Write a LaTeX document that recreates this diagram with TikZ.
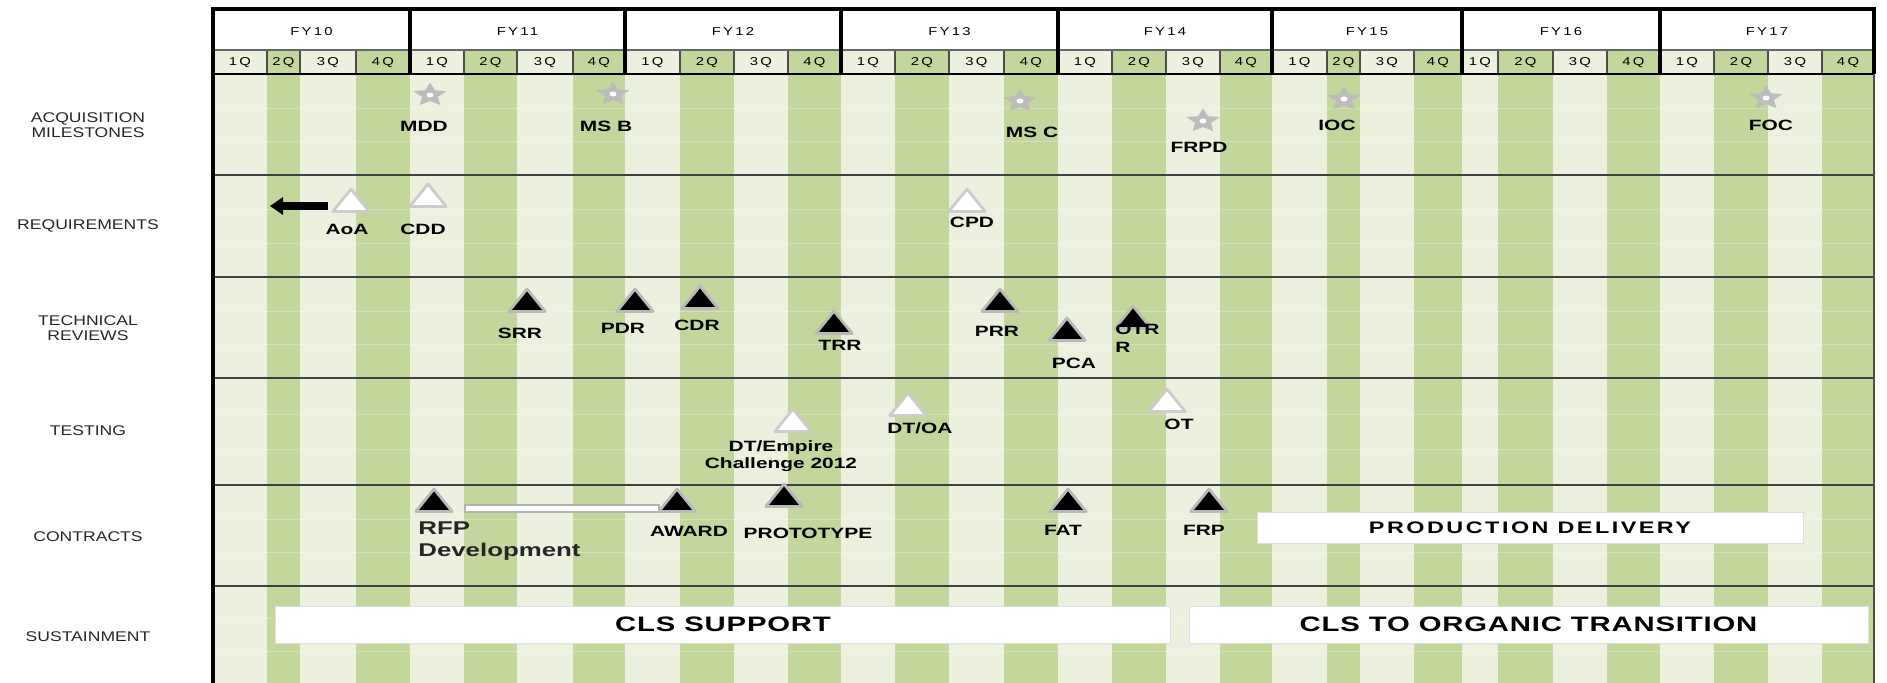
\documentclass[tikz,border=0pt]{standalone}
\usepackage{fontspec}
\setmainfont{Liberation Sans}
\newfontfamily\rowfont[FakeStretch=1.25]{Liberation Sans}
\newfontfamily\hdrfont[FakeStretch=1.3,LetterSpace=20]{Liberation Sans}
\newfontfamily\markfont[FakeStretch=1.4]{Liberation Sans}
\newfontfamily\boxfont[FakeStretch=1.4,LetterSpace=4]{Liberation Sans}
\newfontfamily\prodfont[FakeStretch=1.4,LetterSpace=15]{Liberation Sans}
\usetikzlibrary{arrows.meta, shapes.geometric, math}
\definecolor{stripelight}{RGB}{235,241,222}
\definecolor{stripedark}{RGB}{195,214,155}
\definecolor{stargray}{RGB}{188,188,188}

\tikzset{
  rowlabel/.style={font=\rowfont\fontsize{8}{8.5}\selectfont, align=center, text=black!85},
  hdrlabel/.style={font=\hdrfont\fontsize{6.5}{7}\selectfont, inner sep=0pt},
  marklabel/.style={font=\markfont\bfseries\fontsize{8.5}{10}\selectfont, align=center, inner sep=0pt},
  rfplabel/.style={font=\markfont\bfseries\fontsize{10.5}{12.5}\selectfont, align=left, inner sep=0pt, anchor=north west, text=black!85},
  blacktri/.style={regular polygon, regular polygon sides=3, minimum size=0.6cm, inner sep=0pt, xscale=1.4, fill=black, draw=gray!55, line width=1.6pt, line join=round},
  whitetri/.style={blacktri, fill=white, draw=gray!40},
  milestar/.style={star, star points=5, star point ratio=2.1, minimum size=0.5cm, inner sep=0pt, xscale=1.4, fill=stargray},
  phasebox/.style={fill=white, draw=gray!25, line width=0.5pt, inner sep=0pt},
  phasetext/.style={font=\boxfont\bfseries\fontsize{11.9}{13}\selectfont},
  prodtext/.style={font=\prodfont\bfseries\fontsize{9.5}{11}\selectfont},
  rowsep/.style={draw=black!75, line width=1pt},
  sheetline/.style={draw=white, line width=0.4pt, opacity=0.25},
  backarrow/.style={-{Triangle[width=0.34cm,length=0.26cm]}, line width=4pt},
}

\begin{document}
\begin{tikzpicture}[x=0.02cm, y=-0.02cm]
\tikzmath{
\xl=213; \xr=1874;
\ytop=9; \yq=50; \yh=74; \ybot=683;
}
\useasboundingbox (0,0) rectangle (1887,683);

% background stripes
\fill[white] (\xl,\ytop) rectangle (\xr,\yq);
\fill[stripelight] (\xl,\yq) rectangle (\xr,\ybot);
\foreach \xa/\xb in {267/300, 356/410, 464/517, 573/625, 680/734, 788/841,
  895/949, 1004/1058, 1112/1166, 1220/1272, 1327/1360, 1414/1462,
  1498/1553, 1607/1660, 1714/1768, 1822/1874}
  \fill[stripedark] (\xa,\yq) rectangle (\xb,\ybot);

\foreach \y in {108,141,209,243,311,344,414,449,519,552,618,651}
  \draw[sheetline] (\xl,\y) -- (\xr,\y);
\foreach \y in {175,277,378,485,586}
  \draw[rowsep] (\xl,\y) -- (\xr,\y);

% quarters
\foreach \xa/\xb/\q [count=\i] in {
  213/267/1Q, 267/300/2Q, 300/356/3Q, 356/410/4Q,
  410/464/1Q, 464/517/2Q, 517/573/3Q, 573/625/4Q,
  625/680/1Q, 680/734/2Q, 734/788/3Q, 788/841/4Q,
  841/895/1Q, 895/949/2Q, 949/1004/3Q, 1004/1058/4Q,
  1058/1112/1Q, 1112/1166/2Q, 1166/1220/3Q, 1220/1272/4Q,
  1272/1327/1Q, 1327/1360/2Q, 1360/1414/3Q, 1414/1462/4Q,
  1462/1498/1Q, 1498/1553/2Q, 1553/1607/3Q, 1607/1660/4Q,
  1660/1714/1Q, 1714/1768/2Q, 1768/1822/3Q, 1822/1874/4Q}
{
  \draw[black!70, line width=0.8pt] (\xa,\yq) -- (\xa,\yh);
  \node[hdrlabel] (q\i) at ({(\xa+\xb)/2},63) {\q};
}

% fiscal years
\foreach \xa/\xb/\fy in {213/410/FY10, 410/625/FY11, 625/841/FY12, 841/1058/FY13,
  1058/1272/FY14, 1272/1462/FY15, 1462/1660/FY16, 1660/1874/FY17}
  \node[hdrlabel] (\fy) at ({(\xa+\xb)/2},32) {\fy};

\draw[black!60, line width=0.6pt] (\xl,\yq) -- (\xr,\yq);
\draw[line width=1.3pt] (\xl,\yh) -- (\xr,\yh);
\foreach \x in {410,625,841,1058,1272,1462,1660}
  \draw[line width=1.8pt] (\x,\ytop) -- (\x,\yh);
\draw[line width=1.8pt] (\xl,\ybot) -- (\xl,\ytop) -- (\xr,\ytop) -- (\xr,\yh);
\draw[black!70, line width=0.8pt] (\xr,\yh) -- (\xr,\ybot);

% row titles
\node[rowlabel] (acqrow) at (88,125) {ACQUISITION\\MILESTONES};
\node[rowlabel] (reqrow) at (88,226) {REQUIREMENTS};
\node[rowlabel] (techrow) at (88,328) {TECHNICAL\\REVIEWS};
\node[rowlabel] (testrow) at (88,431) {TESTING};
\node[rowlabel] (controw) at (88,537) {CONTRACTS};
\node[rowlabel] (sustrow) at (88,637) {SUSTAINMENT};

% acquisition milestones
\node[milestar] (mdd) at (430,95) {};
\node[milestar] (msb) at (613,94) {};
\node[milestar] (msc) at (1020,101) {};
\node[milestar] (frpd) at (1203,121) {};
\node[milestar] (ioc) at (1344,99) {};
\node[milestar] (foc) at (1766,98) {};
\foreach \s in {mdd,msb,msc,frpd,ioc,foc}
  \fill[white] (\s) circle[x radius=3.5, y radius=2.5];
\node[marklabel] (mddtext) at (424,126) {MDD};
\node[marklabel] (msbtext) at (606,126) {MS B};
\node[marklabel] (msctext) at (1032,132) {MS C};
\node[marklabel] (frpdtext) at (1199,147) {FRPD};
\node[marklabel] (ioctext) at (1337,125) {IOC};
\node[marklabel] (foctext) at (1771,125) {FOC};

% requirements
\node[whitetri] (aoa) at (351,204) {};
\node[whitetri] (cdd) at (428,199) {};
\node[whitetri] (cpd) at (967,204) {};
\coordinate (aoatip) at (270,206);
\draw[backarrow, shorten <=1pt] (aoa.corner 2 |- aoatip) -- (aoatip);
\node[marklabel] (aoatext) at (347,229) {AoA};
\node[marklabel] (cddtext) at (423,229) {CDD};
\node[marklabel] (cpdtext) at (972,222) {CPD};

% technical reviews
\node[blacktri] (srr) at (527,304) {};
\node[blacktri] (pdr) at (635,304) {};
\node[blacktri] (cdr) at (700,301) {};
\node[blacktri] (trr) at (834,326) {};
\node[blacktri] (prr) at (1000,304) {};
\node[blacktri] (pca) at (1067,333) {};
\node[blacktri] (otrr) at (1133,321) {};
\node[marklabel] (srrtext) at (520,333) {SRR};
\node[marklabel] (pdrtext) at (623,328) {PDR};
\node[marklabel] (cdrtext) at (697,325) {CDR};
\node[marklabel] (trrtext) at (840,345) {TRR};
\node[marklabel] (prrtext) at (997,331) {PRR};
\node[marklabel] (pcatext) at (1074,363) {PCA};
\node[marklabel, align=left, anchor=north west] (otrrtext) at (1115,324) {OTR\\R};

% testing
\node[whitetri] (dte) at (793,424) {};
\node[whitetri] (dtoa) at (908,408) {};
\node[whitetri] (ot) at (1167,404) {};
\node[marklabel] (dtetext) at (781,456) {DT/Empire\\Challenge 2012};
\node[marklabel] (dtoatext) at (920,428) {DT/OA};
\node[marklabel] (ottext) at (1179,424) {OT};

% contracts
\fill[white, draw=gray!60, line width=0.8pt] (465,505) rectangle (659,512);
\node[blacktri] (rfp) at (434,504) {};
\node[blacktri] (award) at (677,504) {};
\node[blacktri] (proto) at (784,499) {};
\node[blacktri] (fat) at (1068,504) {};
\node[blacktri] (frp) at (1209,504) {};
\node[rfplabel] (rfptext) at (418,521) {RFP\\Development};
\node[marklabel] (awardtext) at (689,531) {AWARD};
\node[marklabel] (prototext) at (808,533) {PROTOTYPE};
\node[marklabel] (fattext) at (1063,530) {FAT};
\node[marklabel] (frptext) at (1204,530) {FRP};
\node[phasebox, prodtext, minimum width=10.92cm, minimum height=0.62cm] (proddel) at (1530,527.5) {PRODUCTION DELIVERY};

% sustainment
\node[phasebox, phasetext, minimum width=17.92cm, minimum height=0.74cm] (clssup) at (723,624.5) {CLS SUPPORT};
\node[phasebox, phasetext, minimum width=13.58cm, minimum height=0.74cm] (clsorg) at (1528.5,624.5) {CLS TO ORGANIC TRANSITION};
\end{tikzpicture}
\end{document}
